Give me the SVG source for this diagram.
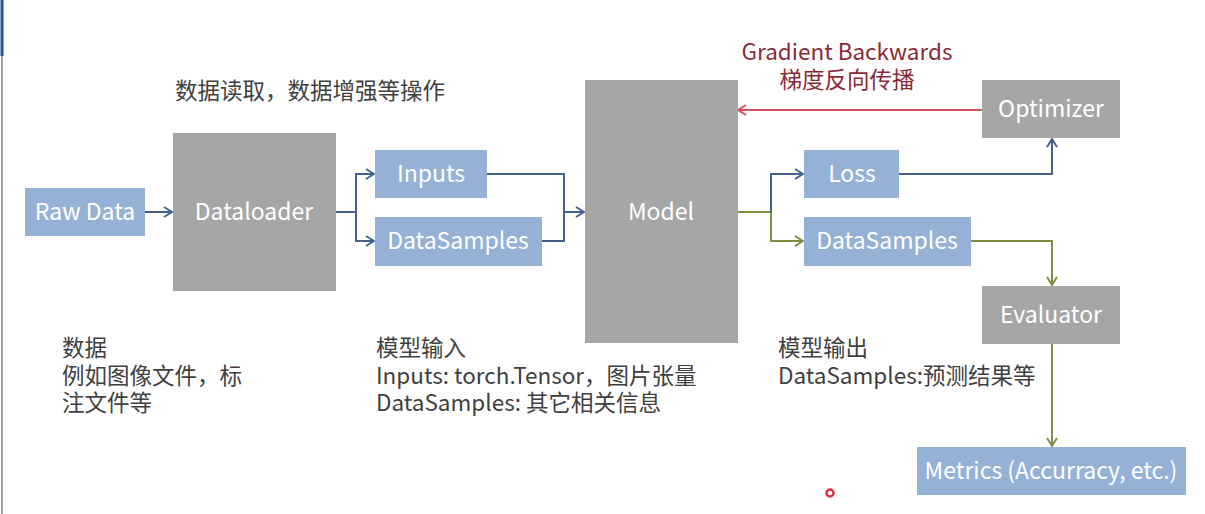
<svg xmlns="http://www.w3.org/2000/svg" width="1205" height="514" viewBox="0 0 1205 514">
<style>
text{font-family:"Noto Sans CJK SC","Noto Sans",sans-serif;}
.blue{fill:#95b1d6;}
.grey{fill:#a6a6a6;}
.nt{fill:#ffffff;font-size:23px;text-anchor:middle;dominant-baseline:central;}
.body{fill:#404040;font-size:22.5px;}
.cb{fill:none;stroke:#44608f;stroke-width:2;}
.cg{fill:none;stroke:#7d8f42;stroke-width:2;}
.cr{fill:none;stroke:#d2505c;stroke-width:2;}
</style>
<defs>
<marker id="ab" viewBox="0 0 10 12" refX="9" refY="6" markerWidth="10" markerHeight="12" markerUnits="userSpaceOnUse" orient="auto"><path d="M1,1 L9,6 L1,11" fill="none" stroke="#44608f" stroke-width="2"/></marker>
<marker id="ag" viewBox="0 0 10 12" refX="9" refY="6" markerWidth="10" markerHeight="12" markerUnits="userSpaceOnUse" orient="auto"><path d="M1,1 L9,6 L1,11" fill="none" stroke="#7d8f42" stroke-width="2"/></marker>
<marker id="ar" viewBox="0 0 10 12" refX="9" refY="6" markerWidth="10" markerHeight="12" markerUnits="userSpaceOnUse" orient="auto"><path d="M1,1 L9,6 L1,11" fill="none" stroke="#d2505c" stroke-width="2"/></marker>
</defs>
<rect x="0" y="0" width="1205" height="514" fill="#ffffff"/>
<line x1="2" y1="0" x2="2" y2="56" stroke="#2f4f8f" stroke-width="3"/>
<line x1="2" y1="56" x2="2" y2="514" stroke="#a0a0a0" stroke-width="2"/>

<g id="connectors">
<path class="cb" d="M145,212 H172" marker-end="url(#ab)"/>
<path class="cb" d="M336,212 H356 V174 H374" marker-end="url(#ab)"/>
<path class="cb" d="M356,212 V241 H374" marker-end="url(#ab)"/>
<path class="cb" d="M487,174 H564 V241 H542"/>
<path class="cb" d="M564,212 H584" marker-end="url(#ab)"/>
<path class="cg" d="M738,212 H771 V241 H803" marker-end="url(#ag)"/>
<path class="cb" d="M771,212 V174 H803" marker-end="url(#ab)"/>
<path class="cb" d="M899,174 H1052 V139" marker-end="url(#ab)"/>
<path class="cg" d="M971,241 H1052 V285" marker-end="url(#ag)"/>
<path class="cg" d="M1052,344 V446" marker-end="url(#ag)"/>
<path class="cr" d="M982,110 H738" marker-end="url(#ar)"/>
</g>

<g id="raw-data"><rect class="blue" x="25" y="188" width="120" height="48"/><text class="nt" x="85" y="210">Raw Data</text></g>
<g id="dataloader"><rect class="grey" x="173" y="133" width="163" height="158"/><text class="nt" x="254" y="210">Dataloader</text></g>
<g id="inputs"><rect class="blue" x="375" y="150" width="112" height="48"/><text class="nt" x="431" y="172">Inputs</text></g>
<g id="datasamples-in"><rect class="blue" x="375" y="217" width="167" height="49"/><text class="nt" x="458" y="239">DataSamples</text></g>
<g id="model"><rect class="grey" x="585" y="80" width="153" height="263"/><text class="nt" x="661" y="210">Model</text></g>
<g id="loss"><rect class="blue" x="804" y="150" width="95" height="48"/><text class="nt" x="852" y="172">Loss</text></g>
<g id="datasamples-out"><rect class="blue" x="804" y="217" width="167" height="49"/><text class="nt" x="887" y="239">DataSamples</text></g>
<g id="optimizer"><rect class="grey" x="982" y="80" width="138" height="58"/><text class="nt" x="1051" y="107">Optimizer</text></g>
<g id="evaluator"><rect class="grey" x="982" y="286" width="138" height="58"/><text class="nt" x="1051" y="313">Evaluator</text></g>
<g id="metrics"><rect class="blue" x="917" y="447" width="269" height="48"/><text class="nt" x="1051" y="469" font-size="23.5">Metrics (Accurracy, etc.)</text></g>

<g id="labels">
<text fill="#8a2a38" font-size="22.5" text-anchor="middle"><tspan x="847" y="60">Gradient Backwards</tspan><tspan x="847" y="88">梯度反向传播</tspan></text>
<text class="body" x="175" y="99" font-size="23">数据读取，数据增强等操作</text>
<text class="body"><tspan x="62" y="356">数据</tspan><tspan x="62" y="384">例如图像文件，标</tspan><tspan x="62" y="411">注文件等</tspan></text>
<text class="body"><tspan x="376" y="356">模型输入</tspan><tspan x="376" y="384">Inputs: torch.Tensor，图片张量</tspan><tspan x="376" y="411">DataSamples: 其它相关信息</tspan></text>
<text class="body"><tspan x="778" y="356">模型输出</tspan><tspan x="778" y="384">DataSamples:预测结果等</tspan></text>
</g>
<circle cx="830" cy="493" r="3.5" fill="#ffffff" stroke="#e0303a" stroke-width="2.5"/>
</svg>
